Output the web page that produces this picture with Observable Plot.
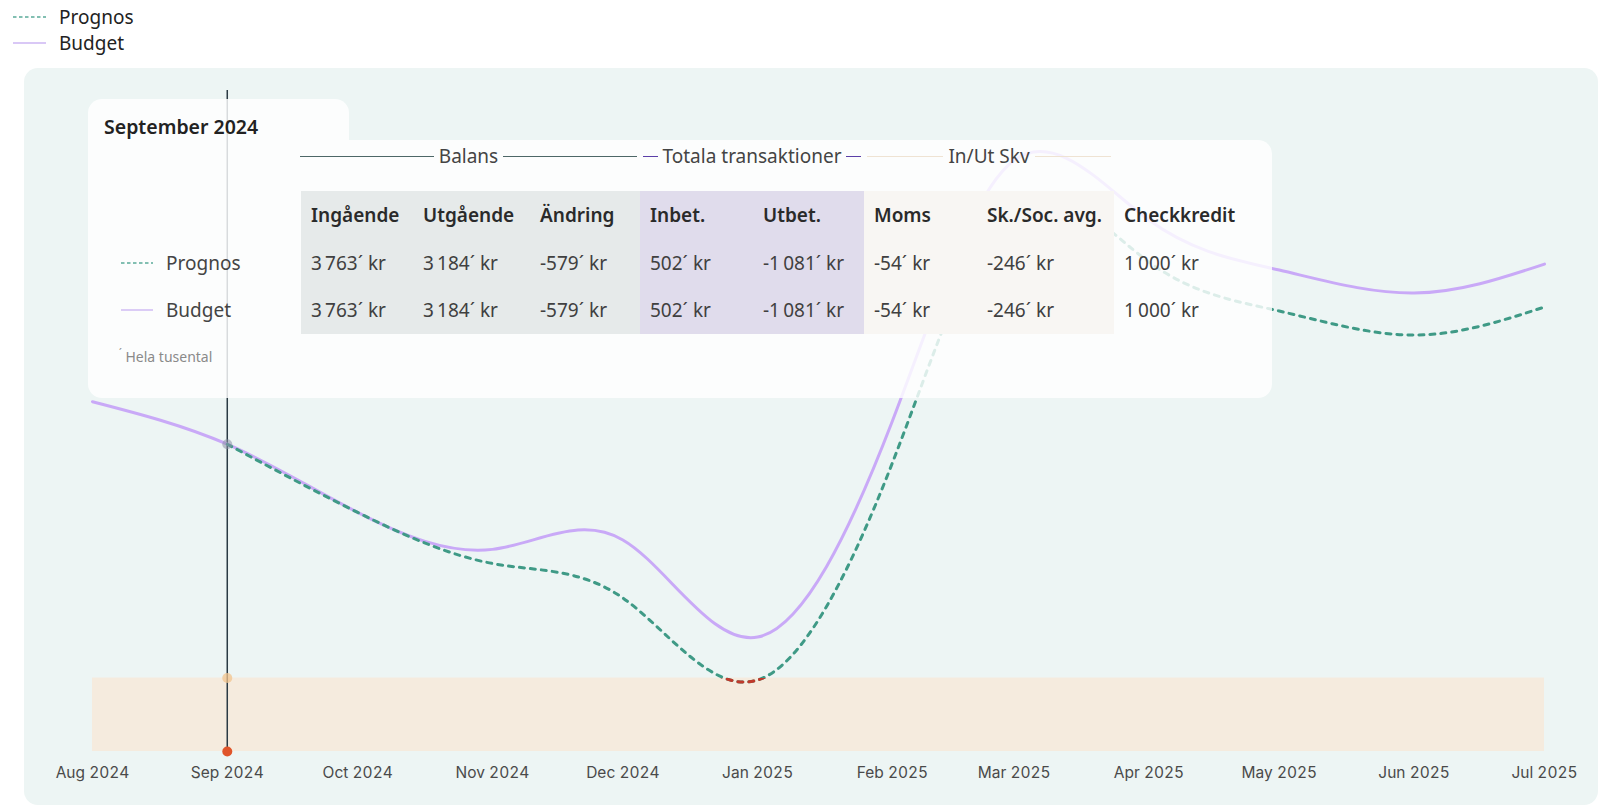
<!DOCTYPE html>
<html><head><meta charset="utf-8">
<script src="https://cdn.jsdelivr.net/npm/d3@7"></script>
<script src="https://cdn.jsdelivr.net/npm/@observablehq/plot@0.6"></script>
<style>
body{margin:0;background:#fff;font-family:"Noto Sans",sans-serif;}
#root{position:relative;width:1598px;height:806px;overflow:hidden;}
.legend-item{position:absolute;left:13px;display:flex;align-items:center;font-size:19px;color:#222;height:26px;}
.legend-item svg{margin-right:13px;}
#panel{position:absolute;left:24px;top:68px;width:1574px;height:737px;background:#edf5f4;border-radius:14px;}
.tipbg{position:absolute;background:rgba(255,255,255,0.82);}
#title{position:absolute;left:104px;top:113px;font-size:19.5px;font-weight:600;color:#222;line-height:28px;}
#groups{position:absolute;left:297px;top:144px;height:24px;display:flex;}
.grp{display:flex;align-items:center;font-size:19px;color:#444;box-sizing:border-box;padding:0 3px;}
.grp .ln{flex:1;height:0;}
.grp span{padding:0 5px;white-space:nowrap;}
#tbl{position:absolute;left:111px;top:191px;border-collapse:collapse;table-layout:fixed;}
#tbl td{padding:0 0 0 10px;white-space:nowrap;font-size:19px;}
#tbl tr.hd td{font-weight:600;color:#2a2a2a;height:48px;}
#tbl tr.r1 td{color:#404040;height:47px;}
#tbl tr.r2 td{color:#404040;height:48px;}
.lab{display:flex;align-items:center;color:#444;}
.lab svg{margin-right:13px;}
#foot{position:absolute;left:119px;top:343px;font-size:14px;color:#8a8a8a;line-height:20px;}
</style></head><body><div id="root"><div id="panel"></div></div>
<script>
// ---- data ----
const months = ["2024-08-01","2024-09-01","2024-10-01","2024-11-01","2024-12-01","2025-01-01",
                "2025-02-01","2025-03-01","2025-04-01","2025-05-01","2025-06-01","2025-07-01"];
const budget  = [3763, 3184, 2255, 1752, 1880, 558, 3500, 7050, 6236, 5555, 5242, 5637];
const prognos = [null, 3184, 2255, 1560, 1090, -27, 2930, 6480, 5665, 4997, 4670, 5052];
const checkkredit = 1000;
const selectedMonth = "2024-09-01";
const selectedTitle = "September 2024";
const seriesNames = ["Prognos", "Budget"];
const columnGroups = ["Balans", "Totala transaktioner", "In/Ut Skv"];
const groupSpans = [3, 2, 2];
const columns = ["Ingående","Utgående","Ändring","Inbet.","Utbet.","Moms","Sk./Soc. avg.","Checkkredit"];
const prognosValues = [3763, 3184, -579, 502, -1081, -54, -246, 1000];
const budgetValues  = [3763, 3184, -579, 502, -1081, -54, -246, 1000];
const footnote = "Hela tusental";

// ---- styles ----
const colBudget = "#c9a9f7", colPrognos = "#3f9a86", colRed = "#c0392b";
const groupBg = ["#e6eaea", "#e0dcec", "#f8f6f3", null];
const groupLine = ["#4d6767", "#5b3fa8", "#efe3d3"];
const colWidths = [112,117,110,113,111,113,137,130];

const parse = d3.utcParse("%Y-%m-%d");
const budgetData = months.map((m,i)=>({date:parse(m), value:budget[i]}));
const prognosData = months.map((m,i)=>({date:parse(m), value:prognos[i]})).filter(d=>d.value!=null);
const sel = parse(selectedMonth);
const selPoint = budgetData.find(d=>+d.date===+sel);

const root = document.getElementById("root");
const panel = document.getElementById("panel");

// legend
function swatch(dashed, color, w=33, sw=1.6){
  return `<svg width="${w}" height="6"><line x1="0" x2="${w}" y1="3" y2="3" stroke="${color}" stroke-width="${sw}" ${dashed?'stroke-dasharray="3.5,2.5"':''}/></svg>`;
}
seriesNames.forEach((n,i)=>{
  const d = document.createElement("div");
  d.className = "legend-item";
  d.style.top = (4 + i*26) + "px";
  d.innerHTML = swatch(i===0, i===0 ? "#5aab99" : "#cdb6f3") + `<span>${n}</span>`;
  root.appendChild(d);
});

// chart
const W = 1574, H = 737, yMax = 8000;
const curve = "natural";
const plot = Plot.plot({
  width: W, height: H,
  marginLeft: 68, marginRight: 54, marginTop: 22, marginBottom: 54,
  style: {background: "transparent", fontFamily: "Inter, sans-serif", fontSize: "15.5px", color: "#4a4a4a", overflow: "visible"},
  x: {type: "utc", domain: [parse(months[0]), parse(months[months.length-1])], ticks: months.map(parse),
      tickFormat: d3.utcFormat("%b %Y"), tickSize: 0, tickPadding: 15, label: null},
  y: {domain: [-checkkredit, yMax], axis: null},
  marks: [
    Plot.rect([{x1: parse(months[0]), x2: parse(months[months.length-1]), y1: -checkkredit, y2: 0}],
      {x1: "x1", x2: "x2", y1: "y1", y2: "y2", fill: "#f5ebde"}),
    Plot.ruleX([sel], {y1: -checkkredit, y2: yMax, stroke: "#2b3a44", strokeWidth: 1.5}),
    Plot.line(budgetData, {x: "date", y: "value", curve, stroke: colBudget, strokeWidth: 3}),
    Plot.line(prognosData, {x: "date", y: "value", curve, stroke: colPrognos, strokeWidth: 3, strokeDasharray: "5,6"}),
    Plot.line(prognosData, {x: "date", y: "value", curve, stroke: colRed, strokeWidth: 3, strokeDasharray: "5,6"}),
    Plot.dot([selPoint], {x: "date", y: "value", r: 5, fill: "#8a8fa6", fillOpacity: 0.55}),
    Plot.dot([{date: sel, value: 0}], {x: "date", y: "value", r: 5, fill: "#f2c48e", fillOpacity: 0.75}),
    Plot.dot([{date: sel, value: -checkkredit}], {x: "date", y: "value", r: 5, fill: "#e0552b"})
  ]
});
panel.appendChild(plot);
// clip red copy of prognos to the region below zero
const y0 = plot.scale("y").apply(0);
const svg = d3.select(plot);
const clipId = "belowZero";
svg.append("defs").append("clipPath").attr("id", clipId)
  .append("rect").attr("x", 0).attr("y", y0).attr("width", W).attr("height", H - y0);
svg.selectAll(`g[stroke="${colRed}"]`).attr("clip-path", `url(#${clipId})`);

// tooltip
function addBg(l,t,w,h,r){const d=document.createElement("div");d.className="tipbg";
  Object.assign(d.style,{left:l+"px",top:t+"px",width:w+"px",height:h+"px",borderRadius:r});root.appendChild(d);}
addBg(88, 99, 261, 41, "14px 14px 0 0");
addBg(88, 140, 1184, 258, "0 14px 14px 14px");

const title = document.createElement("div"); title.id = "title"; title.textContent = selectedTitle; root.appendChild(title);

const groups = document.createElement("div"); groups.id = "groups";
let ci = 0;
columnGroups.forEach((g,gi)=>{
  let w = colWidths.slice(ci, ci+groupSpans[gi]).reduce((a,b)=>a+b,0); ci += groupSpans[gi];
  if (gi === 0) w += 4;
  const el = document.createElement("div"); el.className = "grp"; el.style.width = w + "px";
  const ln = `<div class="ln" style="border-top:1.3px solid ${groupLine[gi]}"></div>`;
  el.innerHTML = ln + `<span>${g}</span>` + ln;
  groups.appendChild(el);
});
root.appendChild(groups);

const groupOf = []; groupSpans.forEach((s,gi)=>{for(let k=0;k<s;k++) groupOf.push(gi);}); while(groupOf.length<columns.length) groupOf.push(3);
const fmt = v => (v<0?"-":"") + d3.format(",")(Math.abs(v)).replace(/,/g,"\u202F") + "\u00B4 kr";
const tbl = document.createElement("table"); tbl.id = "tbl";
let html = `<colgroup><col style="width:190px">` + colWidths.map(w=>`<col style="width:${w}px">`).join("") + `</colgroup>`;
const cell = (txt, c) => `<td style="${groupBg[groupOf[c]] ? 'background:'+groupBg[groupOf[c]] : ''}">${txt}</td>`;
html += `<tr class="hd"><td></td>` + columns.map((c,i)=>cell(c,i)).join("") + `</tr>`;
[[prognosValues, true, "#5aab99"], [budgetValues, false, "#cdb6f3"]].forEach(([vals, dashed, col], ri)=>{
  html += `<tr class="r${ri+1}"><td><div class="lab">${swatch(dashed, col, 32, 1.4)}${seriesNames[ri]}</div></td>` +
    vals.map((v,i)=>cell(fmt(v), i)).join("") + `</tr>`;
});
tbl.innerHTML = html;
root.appendChild(tbl);

const foot = document.createElement("div"); foot.id = "foot";
foot.innerHTML = `<span style="font-size:10px;vertical-align:5px">\u00B4</span> ${footnote}`;
root.appendChild(foot);
</script></body></html>
